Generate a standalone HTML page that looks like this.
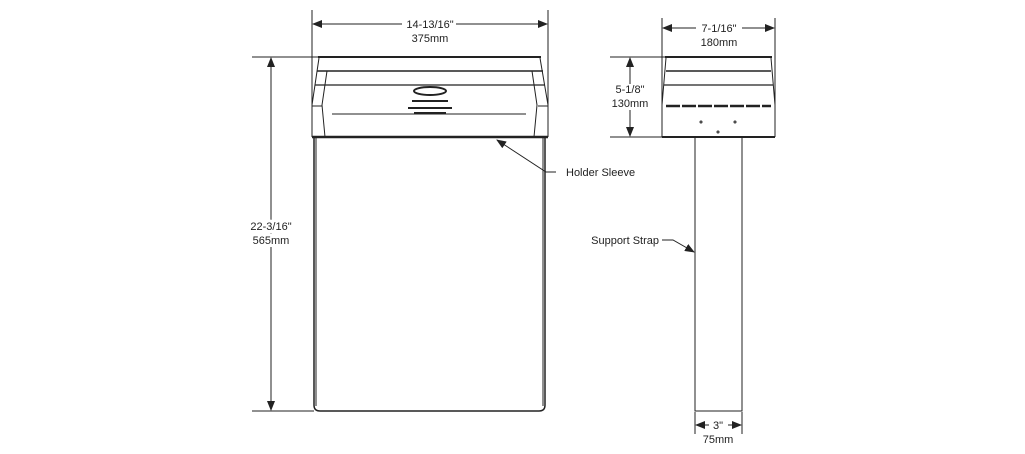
<!DOCTYPE html>
<html><head><style>body{margin:0;background:#fff}svg{display:block}text{font-family:"Liberation Sans",sans-serif;font-size:11px;fill:#222}</style></head><body>
<svg width="1025" height="454" viewBox="0 0 1025 454" xmlns="http://www.w3.org/2000/svg">
<defs><marker id="a" markerWidth="10" markerHeight="8" refX="9" refY="4" orient="auto-start-reverse" markerUnits="userSpaceOnUse"><path d="M0,0 L10,4 L0,8 Z" fill="#222"/></marker></defs>
<g stroke="#222" fill="none" stroke-width="1">
<!-- left view dims -->
<line x1="312" y1="10" x2="312" y2="105"/><line x1="548" y1="10" x2="548" y2="105"/>
<line x1="313" y1="24" x2="402" y2="24" marker-start="url(#a)"/><line x1="456" y1="24" x2="547" y2="24" marker-end="url(#a)"/>
<line x1="252" y1="57" x2="318" y2="57"/><line x1="252" y1="411" x2="314" y2="411"/>
<line x1="271" y1="58" x2="271" y2="410" marker-start="url(#a)" marker-end="url(#a)"/>
<!-- left header -->
<line x1="318" y1="57" x2="541" y2="57" stroke-width="2"/>
<path d="M319,58 L312,105 L312,137 M540,58 L548,105 L548,137"/>
<line x1="317" y1="71" x2="543" y2="71" stroke-width="1.5"/>
<line x1="315" y1="85" x2="545" y2="85" stroke-width="1.2"/>
<path d="M327,71 L322,105 L325,137 M532,71 L537,105 L534,137"/>
<line x1="332" y1="114" x2="526" y2="114"/>
<path d="M312,106 h10 M538,106 h10"/>
<line x1="312" y1="137" x2="548" y2="137" stroke-width="2.5"/>
<ellipse cx="430" cy="91" rx="16" ry="4" stroke-width="2"/>
<path d="M412,101 h36 M408,108 h44 M414,113 h32" stroke-width="2"/>
<!-- body -->
<path d="M314,138 V405 Q314,411 320,411 H539 Q545,411 545,405 V138" stroke-width="1.5"/>
<line x1="316" y1="138" x2="316" y2="406"/><line x1="543" y1="138" x2="543" y2="406"/>
<!-- holder sleeve leader -->
<path d="M556,172 H546 L497,140" marker-end="url(#a)"/>
<!-- right view dims -->
<line x1="662" y1="18" x2="662" y2="105"/><line x1="775" y1="18" x2="775" y2="105"/>
<line x1="663" y1="28" x2="696" y2="28" marker-start="url(#a)"/><line x1="742" y1="28" x2="774" y2="28" marker-end="url(#a)"/>
<line x1="610" y1="57" x2="665" y2="57"/><line x1="610" y1="137" x2="662" y2="137"/>
<line x1="630" y1="58" x2="630" y2="84" marker-start="url(#a)"/><line x1="630" y1="110" x2="630" y2="136" marker-end="url(#a)"/>
<!-- right header -->
<line x1="665" y1="57" x2="772" y2="57" stroke-width="2"/>
<path d="M666,58 L662,105 L662,137 M771,58 L775,105 L775,137"/>
<line x1="666" y1="71" x2="771" y2="71" stroke-width="1.5"/>
<line x1="664" y1="85" x2="773" y2="85" stroke-width="1.2"/>
<line x1="666" y1="106" x2="771" y2="106" stroke-width="2.5" stroke-dasharray="14,2"/>
<line x1="662" y1="137" x2="775" y2="137" stroke-width="2"/>
<circle cx="701" cy="122" r="1"/><circle cx="735" cy="122" r="1"/><circle cx="718" cy="132" r="1"/>
<!-- strap -->
<path d="M695,138 V411 H742 V138"/>
<line x1="695" y1="412" x2="695" y2="434"/><line x1="742" y1="412" x2="742" y2="434"/>
<line x1="696" y1="425" x2="709" y2="425" marker-start="url(#a)"/><line x1="728" y1="425" x2="741" y2="425" marker-end="url(#a)"/>
<path d="M662,240 H673 L694,252" marker-end="url(#a)"/>
</g>
<text x="430" y="28" text-anchor="middle">14-13/16"</text>
<text x="430" y="42" text-anchor="middle">375mm</text>
<text x="719" y="32" text-anchor="middle">7-1/16"</text>
<text x="719" y="46" text-anchor="middle">180mm</text>
<text x="630" y="93" text-anchor="middle">5-1/8"</text>
<text x="630" y="107" text-anchor="middle">130mm</text>
<text x="271" y="230" text-anchor="middle" style="paint-order:stroke;stroke:#fff;stroke-width:6px">22-3/16"</text>
<text x="271" y="244" text-anchor="middle" style="paint-order:stroke;stroke:#fff;stroke-width:6px">565mm</text>
<text x="566" y="176">Holder Sleeve</text>
<text x="659" y="244" text-anchor="end">Support Strap</text>
<text x="718" y="429" text-anchor="middle">3"</text>
<text x="718" y="443" text-anchor="middle">75mm</text>
</svg>
</body></html>
